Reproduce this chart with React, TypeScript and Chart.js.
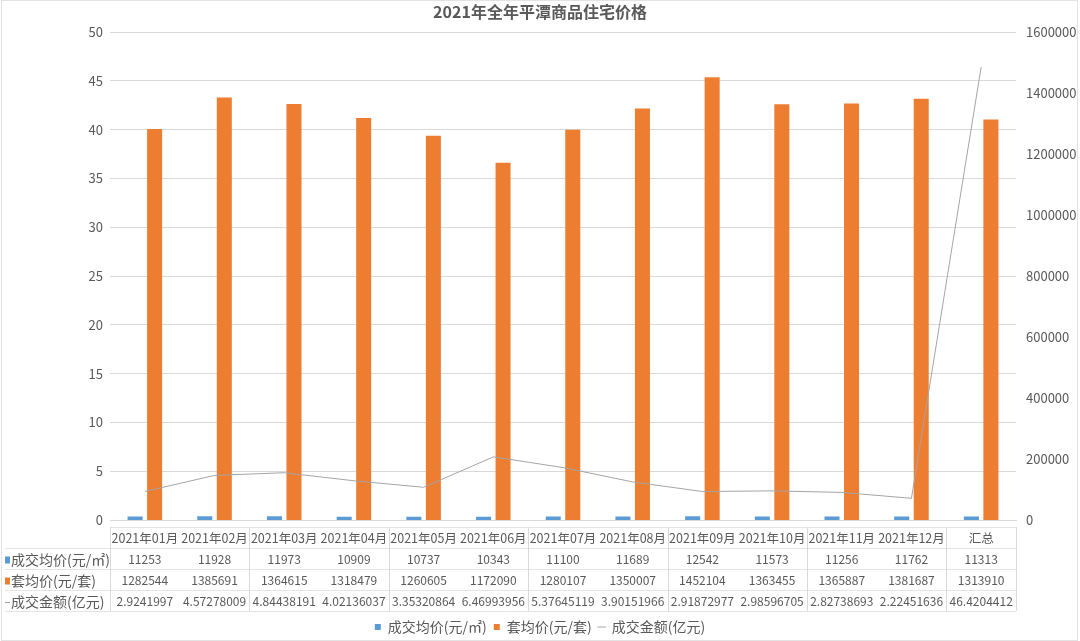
import React, { useEffect, useRef } from "react";
import { Chart, registerables } from "chart.js";

Chart.register(...registerables);

const FONT = '"Noto Sans CJK SC", "Noto Sans", sans-serif';
const TEXT = "#595959";
const GRID = "#d9d9d9";

const titleText = "2021年全年平潭商品住宅价格";

const categories = [
  "2021年01月", "2021年02月", "2021年03月", "2021年04月", "2021年05月", "2021年06月",
  "2021年07月", "2021年08月", "2021年09月", "2021年10月", "2021年11月", "2021年12月", "汇总",
];

const seriesNames = ["成交均价(元/㎡)", "套均价(元/套)", "成交金额(亿元)"];
const seriesColors = ["#5B9BD5", "#ED7D31", "#A5A5A5"];

const avgPricePerSqm = [11253, 11928, 11973, 10909, 10737, 10343, 11100, 11689, 12542, 11573, 11256, 11762, 11313];
const avgPricePerUnit = [1282544, 1385691, 1364615, 1318479, 1260605, 1172090, 1280107, 1350007, 1452104, 1363455, 1365887, 1381687, 1313910];
const turnoverAmount = [
  2.9241997, 4.57278009, 4.84438191, 4.02136037, 3.35320864, 6.46993956,
  5.37645119, 3.90151966, 2.91872977, 2.98596705, 2.82738693, 2.22451636, 46.4204412,
];

const leftAxis = { min: 0, max: 50, step: 5 };
const rightAxis = { min: 0, max: 1600000, step: 200000 };

const tableRows = [avgPricePerSqm, avgPricePerUnit, turnoverAmount];

const tablePlugin = {
  id: "dataTable",
  beforeDraw(chart: any) {
    const { ctx, width, height } = chart;
    ctx.save();
    ctx.strokeStyle = "#e3e3e3";
    ctx.lineWidth = 1;
    ctx.strokeRect(1.5, 0.5, width - 4, height - 1);
    ctx.restore();
  },
  afterDraw(chart: any) {
    const { ctx, chartArea } = chart;
    const xScale = chart.scales.x;
    const n = categories.length;
    const left = chartArea.left;
    const right = chartArea.right;
    const colW = (right - left) / n;
    const top = chartArea.bottom + 7;
    const rowH = 21;
    ctx.save();
    ctx.strokeStyle = "#e4e4e4";
    ctx.lineWidth = 1;
    for (let r = 0; r <= 4; r++) {
      const y = Math.round(top + r * rowH) + 0.5;
      ctx.beginPath();
      ctx.moveTo(r === 0 ? left : 5, y);
      ctx.lineTo(right, y);
      ctx.stroke();
    }
    ctx.strokeStyle = GRID;
    for (let c = 0; c <= n; c++) {
      if (c % 2 !== 0 && c !== n) continue;
      const x = Math.round(left + c * colW) + 0.5;
      ctx.beginPath();
      ctx.moveTo(x, top);
      ctx.lineTo(x, top + 4 * rowH);
      ctx.stroke();
    }
    ctx.textAlign = "center";
    ctx.textBaseline = "middle";
    ctx.fillStyle = TEXT;
    ctx.font = `12.5px ${FONT}`;
    categories.forEach((c, i) => {
      const cx = xScale.getPixelForValue(i);
      ctx.fillText(c, cx, top + rowH / 2 + 1);
    });
    ctx.font = `12px ${FONT}`;
    tableRows.forEach((row, r) => {
      const cy = top + rowH * (r + 1) + rowH / 2 + 1;
      row.forEach((v, i) => {
        const cx = xScale.getPixelForValue(i);
        ctx.fillText(String(v), cx, cy);
      });
    });
    ctx.textAlign = "left";
    ctx.font = `14px ${FONT}`;
    seriesNames.forEach((name, r) => {
      const cy = top + rowH * (r + 1) + rowH / 2 + 1;
      if (r < 2) {
        ctx.fillStyle = seriesColors[r];
        ctx.fillRect(5, cy - 3, 5, 7);
      } else {
        ctx.strokeStyle = seriesColors[r];
        ctx.beginPath();
        ctx.moveTo(5, Math.round(cy) + 0.5);
        ctx.lineTo(10, Math.round(cy) + 0.5);
        ctx.stroke();
      }
      ctx.fillStyle = TEXT;
      ctx.fillText(name, 11, cy);
    });
    ctx.restore();
  },
};

export default function App() {
  const canvasRef = useRef<HTMLCanvasElement | null>(null);

  useEffect(() => {
    const canvas = canvasRef.current;
    if (!canvas) return;
    const chart = new Chart(canvas, {
      type: "bar",
      data: {
        labels: categories,
        datasets: [
          {
            type: "bar",
            label: seriesNames[0],
            data: avgPricePerSqm,
            backgroundColor: seriesColors[0],
            borderWidth: 0,
            yAxisID: "y1",
            order: 1,
            categoryPercentage: 0.56,
            barPercentage: 0.77,
          },
          {
            type: "bar",
            label: seriesNames[1],
            data: avgPricePerUnit,
            backgroundColor: seriesColors[1],
            borderWidth: 0,
            yAxisID: "y1",
            order: 1,
            categoryPercentage: 0.56,
            barPercentage: 0.77,
          },
          {
            type: "line",
            label: seriesNames[2],
            data: turnoverAmount,
            borderColor: seriesColors[2],
            backgroundColor: seriesColors[2],
            borderWidth: 1,
            pointRadius: 0,
            tension: 0,
            yAxisID: "y",
            order: 0,
          },
        ] as any,
      },
      options: {
        responsive: false,
        animation: false,
        layout: { padding: { top: 0, left: 0, right: 0, bottom: -3 } },
        scales: {
          x: {
            type: "category",
            grid: { display: false, drawTicks: false },
            border: { display: true, color: GRID, width: 1 },
            ticks: { display: false },
            afterFit(s: any) {
              s.height = 93;
            },
          },
          y: {
            position: "left",
            min: leftAxis.min,
            max: leftAxis.max,
            ticks: { stepSize: leftAxis.step, color: TEXT, font: { size: 13, family: FONT }, padding: 7 },
            grid: { color: GRID, drawTicks: false },
            border: { display: false },
            afterFit(s: any) {
              s.width = 110;
            },
          },
          y1: {
            position: "right",
            min: rightAxis.min,
            max: rightAxis.max,
            ticks: {
              stepSize: rightAxis.step,
              color: TEXT,
              font: { size: 13, family: FONT },
              padding: 10,
              callback: (v: any) => String(v),
            },
            grid: { display: false, drawTicks: false },
            border: { display: false },
            afterFit(s: any) {
              s.width = 64;
            },
          },
        } as any,
        plugins: {
          title: {
            display: true,
            text: titleText,
            color: TEXT,
            font: { size: 16, weight: "bold", family: FONT },
            padding: { top: 2, bottom: 11 },
          },
          legend: {
            display: true,
            position: "bottom",
            labels: {
              usePointStyle: true,
              boxWidth: 6,
              boxHeight: 6,
              padding: 7,
              color: TEXT,
              font: { size: 14, family: FONT },
              generateLabels(ch: any) {
                const items = Chart.defaults.plugins.legend.labels.generateLabels(ch);
                items.forEach((it: any) => {
                  const ds: any = ch.data.datasets[it.datasetIndex];
                  if (ds.type === "line") {
                    it.pointStyle = "line";
                    it.strokeStyle = ds.borderColor;
                    it.lineWidth = 1;
                  } else {
                    it.pointStyle = "rect";
                    it.lineWidth = 0;
                  }
                });
                return items.sort((a: any, b: any) => a.datasetIndex - b.datasetIndex);
              },
            },
          },
          tooltip: { enabled: false },
        },
      } as any,
      plugins: [tablePlugin],
    });
    return () => chart.destroy();
  }, []);

  return (
    <div style={{ position: "fixed", left: 0, top: 0, width: 1080, height: 641, background: "#fff" }}>
      <canvas ref={canvasRef} width={1080} height={641} style={{ width: 1080, height: 641, display: "block" }} />
    </div>
  );
}
